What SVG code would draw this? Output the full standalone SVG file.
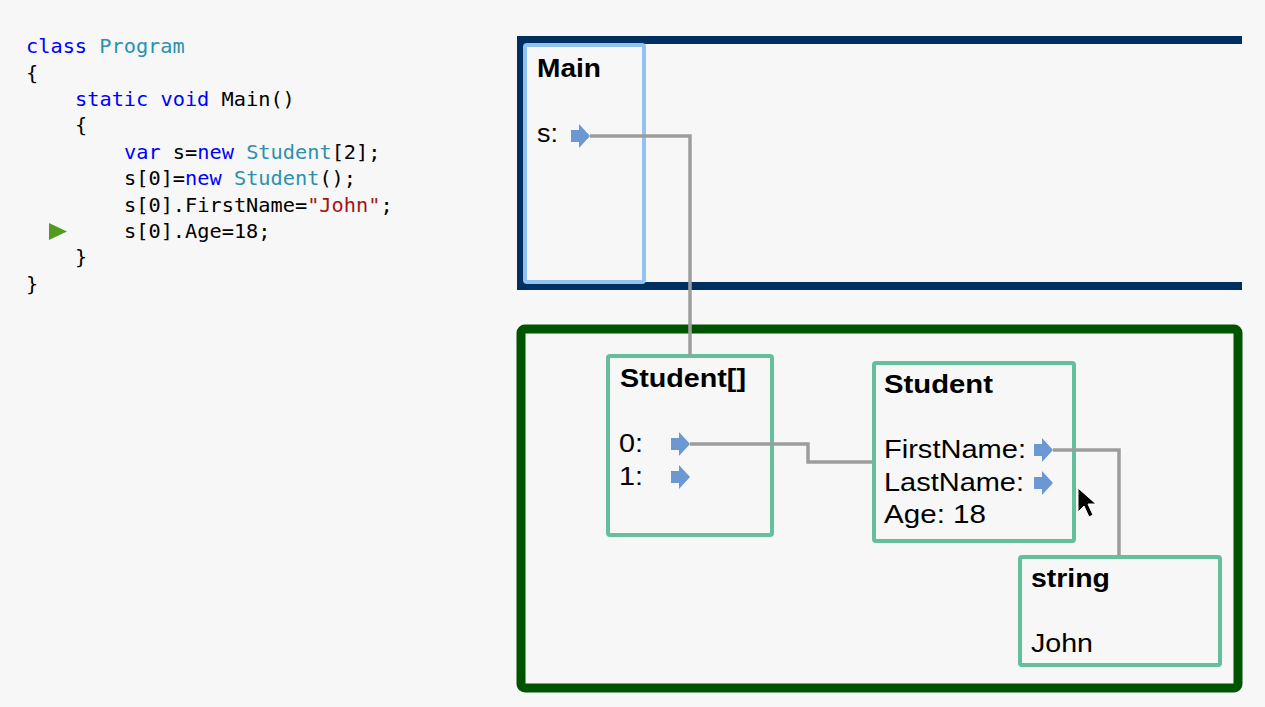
<svg xmlns="http://www.w3.org/2000/svg" width="1265" height="707" viewBox="0 0 1265 707">
<defs>
<style>
.code{font-family:"DejaVu Sans Mono","Liberation Mono",monospace;font-size:20.3px;fill:#000}
.kw{fill:#0000ff}.ty{fill:#2b91af}.st{fill:#a31515}
.title{font-family:"Liberation Sans",Arial,sans-serif;font-size:26px;font-weight:bold;fill:#000}
.lbl{font-family:"Liberation Sans",Arial,sans-serif;font-size:26px;fill:#000}
.obj{fill:none;stroke:#63bf9c;stroke-width:4}
.conn{fill:none;stroke:#9d9d9d;stroke-width:3.5}
.ptr{fill:#6b98d3}
</style>
<path id="ptr" d="M-19,-6 H-11 V-12 L0,0 L-11,12 V6 H-19 Z"/>
</defs>
<rect width="1265" height="707" fill="#f7f7f7"/>

<g id="code">
<text class="code" x="26" y="53"><tspan class="kw">class</tspan> <tspan class="ty">Program</tspan></text>
<text class="code" x="26" y="79.5">{</text>
<text class="code" x="75" y="106"><tspan class="kw">static</tspan> <tspan class="kw">void</tspan> Main()</text>
<text class="code" x="75" y="132">{</text>
<text class="code" x="124" y="159"><tspan class="kw">var</tspan> s=<tspan class="kw">new</tspan> <tspan class="ty">Student</tspan>[2];</text>
<text class="code" x="124" y="185">s[0]=<tspan class="kw">new</tspan> <tspan class="ty">Student</tspan>();</text>
<text class="code" x="124" y="212">s[0].FirstName=<tspan class="st">"John"</tspan>;</text>
<text class="code" x="124" y="238">s[0].Age=18;</text>
<text class="code" x="75" y="264">}</text>
<text class="code" x="26" y="291">}</text>
<polygon points="49,223 67,231.5 49,240" fill="#539a1f"/>
</g>

<g id="stack-frame">
<path d="M1242,40 H521 V286 H1242" fill="none" stroke="#00305f" stroke-width="8"/>
</g>

<g id="heap-frame">
<rect x="521" y="329" width="717" height="359" rx="4" fill="none" stroke="#005400" stroke-width="9"/>
</g>

<g id="main">
<rect x="525" y="45" width="119" height="237" rx="2" fill="none" stroke="#92c2f2" stroke-width="4"/>
<text class="title" x="537" y="77" textLength="64" lengthAdjust="spacingAndGlyphs">Main</text>
<text class="lbl" x="537" y="142" textLength="21" lengthAdjust="spacingAndGlyphs">s:</text>
<use href="#ptr" class="ptr" x="590" y="136"/>
</g>

<g id="student-array">
<rect class="obj" x="608" y="356" width="164" height="179" rx="2"/>
<text class="title" x="620" y="387" textLength="126" lengthAdjust="spacingAndGlyphs">Student[]</text>
<text class="lbl" x="619" y="452" textLength="24" lengthAdjust="spacingAndGlyphs">0:</text>
<text class="lbl" x="619" y="485" textLength="24" lengthAdjust="spacingAndGlyphs">1:</text>
<use href="#ptr" class="ptr" x="690" y="444"/>
<use href="#ptr" class="ptr" x="690" y="477"/>
</g>

<g id="student">
<rect class="obj" x="874" y="363" width="200" height="178" rx="2"/>
<text class="title" x="884" y="393" textLength="109" lengthAdjust="spacingAndGlyphs">Student</text>
<text class="lbl" x="884" y="458" textLength="142" lengthAdjust="spacingAndGlyphs">FirstName:</text>
<text class="lbl" x="884" y="491" textLength="140" lengthAdjust="spacingAndGlyphs">LastName:</text>
<text class="lbl" x="884" y="523" textLength="102" lengthAdjust="spacingAndGlyphs">Age: 18</text>
<use href="#ptr" class="ptr" x="1053" y="450"/>
<use href="#ptr" class="ptr" x="1053" y="483"/>
</g>

<g id="string">
<rect class="obj" x="1020" y="557" width="200" height="108" rx="2"/>
<text class="title" x="1031" y="587" textLength="79" lengthAdjust="spacingAndGlyphs">string</text>
<text class="lbl" x="1031" y="652" textLength="62" lengthAdjust="spacingAndGlyphs">John</text>
</g>

<g id="connectors">
<path class="conn" d="M590,136 H690 V355"/>
<path class="conn" d="M690,444 H808 V462 H872"/>
<path class="conn" d="M1053,450 H1119 V556"/>
</g>

<g id="cursor">
<path d="M1078,488 V512 L1084,506 L1089,517 L1093,515 L1088,504 L1096,504 Z" fill="#000" stroke="#fff" stroke-width="1"/>
</g>
</svg>
